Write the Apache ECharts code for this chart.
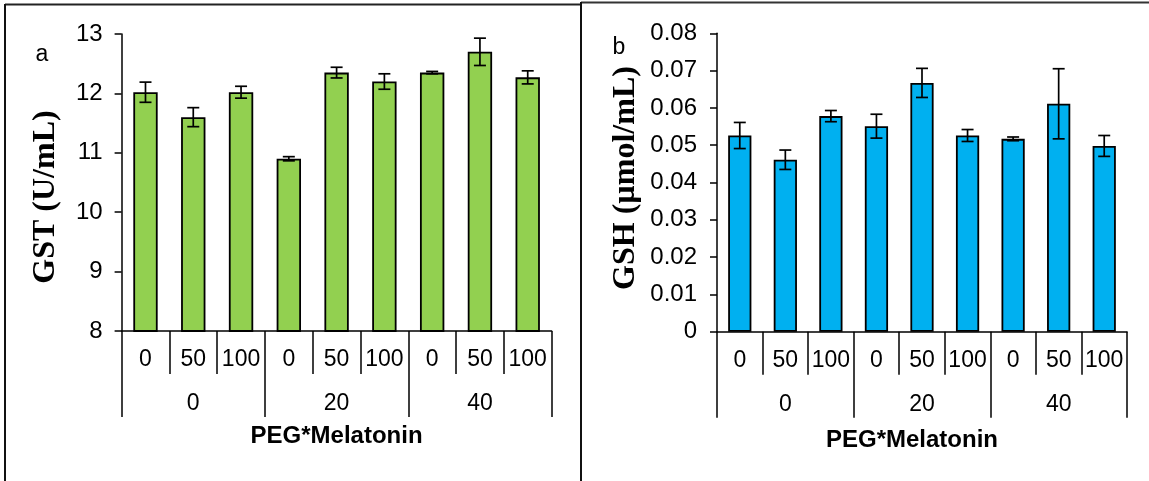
<!DOCTYPE html>
<html>
<head>
<meta charset="utf-8">
<script src="https://cdn.jsdelivr.net/npm/echarts@6/dist/echarts.min.js"></script>
<style>
html,body{margin:0;padding:0;background:#fff;}
#chart{width:1149px;height:481px;}
</style>
</head>
<body>
<div id="chart"></div>
<script>
// ---- Data ----
var melatonin = ['0', '50', '100', '0', '50', '100', '0', '50', '100'];
var peg = ['0', '20', '40'];
var gstMean = [12.02, 11.60, 12.02, 10.90, 12.35, 12.20, 12.35, 12.70, 12.27];
var gstErr  = [0.17, 0.16, 0.10, 0.035, 0.09, 0.13, 0.02, 0.23, 0.11];
var gshMean = [0.0526, 0.0461, 0.0578, 0.0551, 0.0667, 0.0526, 0.0517, 0.0611, 0.0498];
var gshErr  = [0.0035, 0.0026, 0.0015, 0.0032, 0.0039, 0.0016, 0.0005, 0.0094, 0.0028];
var gstTicks = [8, 9, 10, 11, 12, 13];
var gshTicks = [0, 0.01, 0.02, 0.03, 0.04, 0.05, 0.06, 0.07, 0.08];

var SANS = '"Liberation Sans", Arial, sans-serif';
var SERIF = '"Liberation Serif", "Times New Roman", serif';

function errData(mean, err) {
  return mean.map(function (m, i) { return [i, m - err[i], m + err[i]]; });
}

function errRender(params, api) {
  var x = api.value(0);
  var top = api.coord([x, api.value(2)]);
  var bot = api.coord([x, api.value(1)]);
  var hw = 6;
  var st = { stroke: '#000', lineWidth: 1.7 };
  return {
    type: 'group',
    children: [
      { type: 'line', shape: { x1: top[0], y1: top[1], x2: bot[0], y2: bot[1] }, style: st },
      { type: 'line', shape: { x1: top[0] - hw, y1: top[1], x2: top[0] + hw, y2: top[1] }, style: st },
      { type: 'line', shape: { x1: bot[0] - hw, y1: bot[1], x2: bot[0] + hw, y2: bot[1] }, style: st }
    ]
  };
}

function innerAxis(gi) {
  return {
    type: 'category', gridIndex: gi, data: melatonin, position: 'bottom',
    axisLine: { show: true, lineStyle: { color: '#000', width: 1.5 } },
    axisTick: { show: true, interval: 0, length: 43, lineStyle: { color: '#000', width: 1.5 } },
    axisLabel: { interval: 0, margin: 17, color: '#000', fontSize: 23, fontFamily: SANS }
  };
}
function groupAxis(gi, pad) {
  return {
    type: 'category', gridIndex: gi, data: peg, position: 'bottom', offset: 0,
    axisLine: { show: false },
    axisTick: { show: true, interval: 0, length: 86, lineStyle: { color: '#000', width: 1.5 } },
    axisLabel: { interval: 0, margin: 61, color: '#000', fontSize: 23, fontFamily: SANS },
    name: 'PEG*Melatonin', nameLocation: 'middle', nameGap: pad.gap,
    nameTextStyle: { color: '#000', fontSize: 24, fontWeight: 'bold', fontFamily: SANS, padding: pad.padding }
  };
}

var option = {
  animation: false,
  backgroundColor: '#fff',
  grid: [
    { left: 121.6, top: 34, width: 430, height: 297 },
    { left: 717, top: 33.3, width: 410, height: 298.4 }
  ],
  xAxis: [
    innerAxis(0),
    groupAxis(0, { gap: 93, padding: [0, 0, 0, 0] }),
    innerAxis(1),
    groupAxis(1, { gap: 97, padding: [0, 20, 0, 0] })
  ],
  yAxis: [
    {
      type: 'value', gridIndex: 0, min: gstTicks[0], max: gstTicks[gstTicks.length - 1], interval: 1,
      splitLine: { show: false },
      axisLine: { show: true, lineStyle: { color: '#000', width: 1.5 } },
      axisTick: { show: true, length: 7, lineStyle: { color: '#000', width: 1.5 } },
      axisLabel: { margin: 19, color: '#000', fontSize: 24, fontFamily: SANS }
    },
    {
      type: 'value', gridIndex: 1, min: gshTicks[0], max: gshTicks[gshTicks.length - 1], interval: 0.01,
      splitLine: { show: false },
      axisLine: { show: true, lineStyle: { color: '#000', width: 1.5 } },
      axisTick: { show: true, length: 7, lineStyle: { color: '#000', width: 1.5 } },
      axisLabel: { margin: 20, color: '#000', fontSize: 24, fontFamily: SANS,
        formatter: function (v) { return v === 0 ? '0' : v.toFixed(2); } }
    }
  ],
  series: [
    {
      type: 'bar', xAxisIndex: 0, yAxisIndex: 0, data: gstMean, barWidth: '51%',
      itemStyle: { color: '#92D050', borderColor: '#000', borderWidth: 1.8 }
    },
    {
      type: 'custom', xAxisIndex: 0, yAxisIndex: 0, data: errData(gstMean, gstErr),
      renderItem: errRender, encode: { x: 0, y: [1, 2] }, z: 5
    },
    {
      type: 'bar', xAxisIndex: 2, yAxisIndex: 1, data: gshMean, barWidth: '51%',
      itemStyle: { color: '#00B0F0', borderColor: '#000', borderWidth: 1.8 }
    },
    {
      type: 'custom', xAxisIndex: 2, yAxisIndex: 1, data: errData(gshMean, gshErr),
      renderItem: errRender, encode: { x: 0, y: [1, 2] }, z: 5
    }
  ],
  graphic: [
    // panel frames
    { type: 'line', shape: { x1: 5, y1: 4.5, x2: 581, y2: 4.5 }, style: { stroke: '#222', lineWidth: 2 } },
    { type: 'line', shape: { x1: 5, y1: 4, x2: 5, y2: 481 }, style: { stroke: '#111', lineWidth: 2 } },
    { type: 'line', shape: { x1: 581, y1: 2.5, x2: 1149, y2: 2.5 }, style: { stroke: '#333', lineWidth: 2 } },
    { type: 'line', shape: { x1: 581, y1: 2, x2: 581, y2: 481 }, style: { stroke: '#111', lineWidth: 2 } },
    // panel labels
    { type: 'text', x: 42, y: 55, style: { text: 'a', fill: '#000', font: '23px ' + SANS, align: 'center', verticalAlign: 'middle' } },
    { type: 'text', x: 619, y: 48, style: { text: 'b', fill: '#000', font: '23px ' + SANS, align: 'center', verticalAlign: 'middle' } },
    // y axis titles
    { type: 'text', x: 46, y: 197, rotation: Math.PI / 2,
      style: { text: 'GST (U/mL)', fill: '#000', font: 'bold 32px ' + SERIF, align: 'center', verticalAlign: 'middle' } },
    { type: 'text', x: 626, y: 178, rotation: Math.PI / 2,
      style: { text: 'GSH (µmol/mL)', fill: '#000', font: 'bold 32px ' + SERIF, align: 'center', verticalAlign: 'middle' } }
  ]
};

var chart = echarts.init(document.getElementById('chart'), null, { renderer: 'canvas' });
chart.setOption(option);
</script>
</body>
</html>
